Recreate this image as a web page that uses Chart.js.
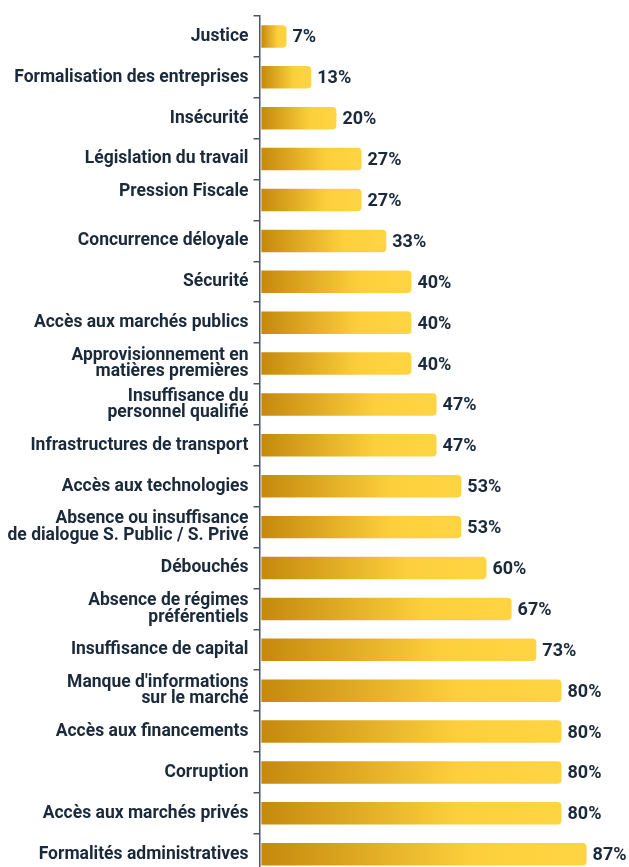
<!DOCTYPE html>
<html>
<head>
<meta charset="utf-8">
<script src="https://cdn.jsdelivr.net/npm/chart.js@4.4.1/dist/chart.umd.min.js"></script>
<style>
  html, body { margin: 0; padding: 0; background: #ffffff; overflow: hidden; }
  #wrap { width: 629px; height: 888px; position: relative; }
</style>
</head>
<body>
<div id="wrap"><canvas id="c"></canvas></div>
<script>
const categories = [
  "Justice",
  "Formalisation des entreprises",
  "Insécurité",
  "Législation du travail",
  ["Pression Fiscale", ""],
  "Concurrence déloyale",
  "Sécurité",
  "Accès aux marchés publics",
  ["Approvisionnement en", "matières premières"],
  ["Insuffisance du", "personnel qualifié"],
  "Infrastructures de transport",
  "Accès aux technologies",
  ["Absence ou insuffisance", "de dialogue S. Public / S. Privé"],
  "Débouchés",
  ["Absence de régimes", "préférentiels"],
  "Insuffisance de capital",
  ["Manque d'informations", "sur le marché"],
  "Accès aux financements",
  "Corruption",
  "Accès aux marchés privés",
  "Formalités administratives"
];
const values = [6.7, 13.3, 20, 26.7, 26.7, 33.3, 40, 40, 40, 46.7, 46.7, 53.3, 53.3, 60, 66.7, 73.3, 80, 80, 80, 80, 86.7];
const valueLabels = ["7%", "13%", "20%", "27%", "27%", "33%", "40%", "40%", "40%", "47%", "47%", "53%", "53%", "60%", "67%", "73%", "80%", "80%", "80%", "80%", "87%"];

const TEXT = '#1a2a3b';
const AXIS = '#4a5466';
const FONT = "Roboto, 'DejaVu Sans', sans-serif";

function barGradient(ctx) {
  const chart = ctx.chart;
  const xs = chart.scales && chart.scales.x;
  if (!xs || ctx.type !== 'data') return '#e0a82a';
  const x0 = xs.getPixelForValue(0);
  const x1 = xs.getPixelForValue(ctx.raw);
  if (!isFinite(x0) || !isFinite(x1) || x1 <= x0) return '#e0a82a';
  const g = chart.ctx.createLinearGradient(x0, 0, x1, 0);
  g.addColorStop(0, '#c5890d');
  g.addColorStop(0.65, '#fdcf3c');
  g.addColorStop(1, '#ffd442');
  return g;
}

const valueLabelPlugin = {
  id: 'valueLabels',
  afterDatasetsDraw(chart) {
    const ctx = chart.ctx;
    const meta = chart.getDatasetMeta(0);
    ctx.save();
    ctx.font = "bold 18px " + FONT;
    ctx.fillStyle = TEXT;
    ctx.textAlign = 'left';
    ctx.textBaseline = 'middle';
    meta.data.forEach((el, i) => {
      ctx.fillText(valueLabels[i], el.x + 6, el.y + 1.5);
    });
    ctx.restore();
  }
};

new Chart(document.getElementById('c'), {
  type: 'bar',
  data: {
    labels: categories,
    datasets: [{
      data: values,
      backgroundColor: barGradient,
      borderRadius: 4,
      borderSkipped: 'start',
      categoryPercentage: 1,
      barPercentage: 0.55
    }]
  },
  options: {
    indexAxis: 'y',
    responsive: true,
    maintainAspectRatio: false,
    animation: false,
    layout: { padding: { top: 16, right: 0, bottom: 0, left: 0 } },
    plugins: {
      legend: { display: false },
      tooltip: { enabled: false }
    },
    scales: {
      x: {
        display: false,
        min: -0.5,
        max: 98
      },
      y: {
        offset: true,
        afterFit(scale) { scale.width = 259.5; },
        grid: {
          display: true,
          drawOnChartArea: false,
          drawTicks: true,
          tickLength: 6,
          color: AXIS,
          lineWidth: 1.5
        },
        border: { display: true, color: AXIS, width: 1.5 },
        ticks: {
          color: TEXT,
          padding: 5,
          autoSkip: false,
          font: { family: FONT, size: 17.5, weight: 'bold', lineHeight: 0.95 }
        }
      }
    }
  },
  plugins: [valueLabelPlugin]
});
</script>
</body>
</html>
